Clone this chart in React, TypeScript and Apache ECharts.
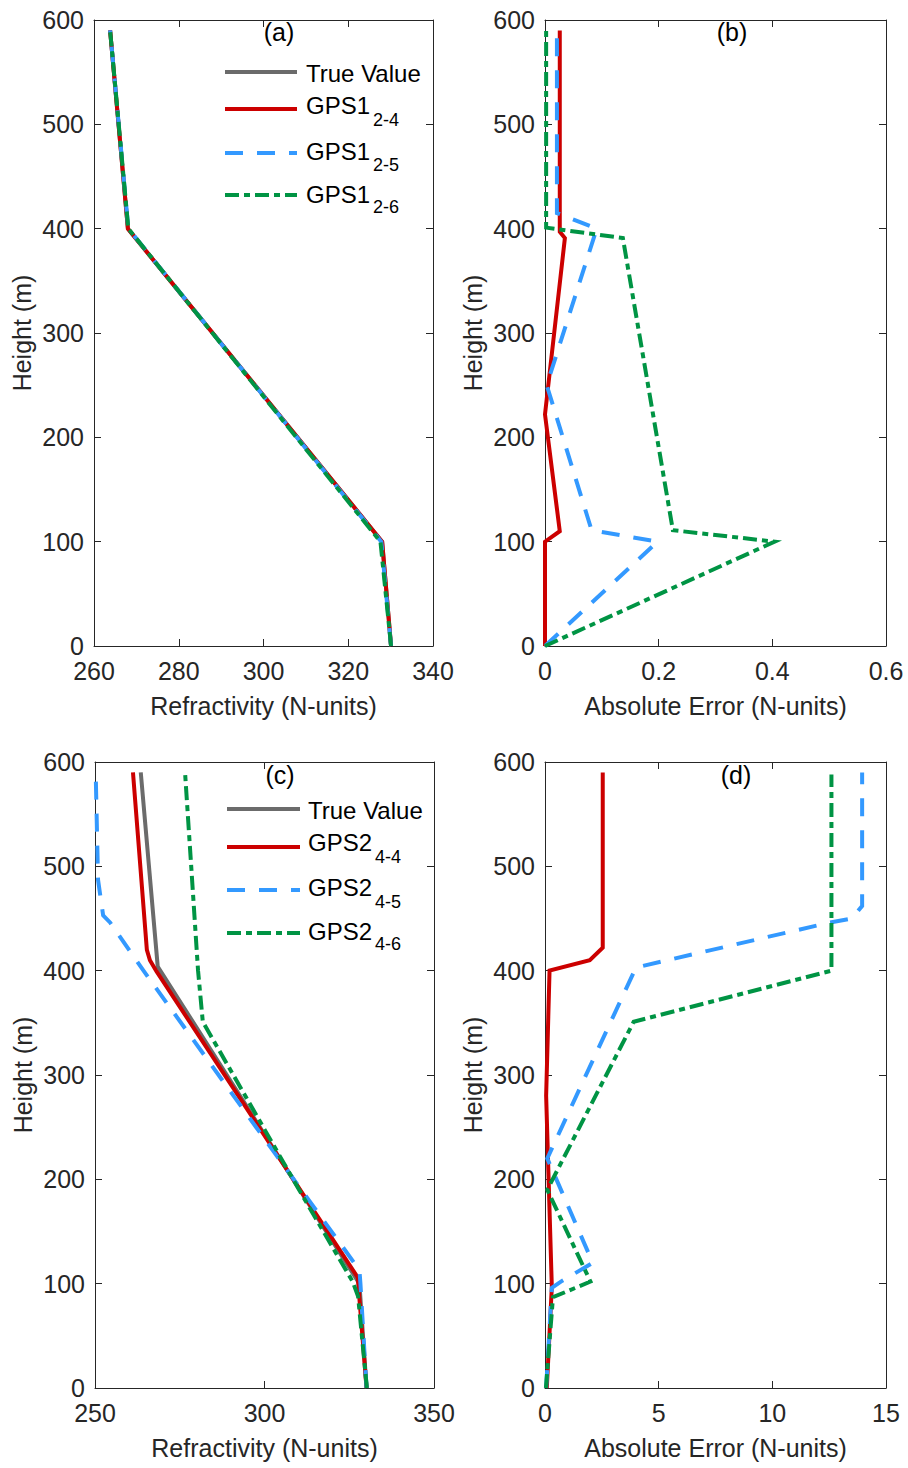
import React, { useEffect, useRef } from "react";
import * as echarts from "echarts";

// ---------- data ----------
// Panel (a): refractivity profiles (N-units) vs height (m)
const A_TRUE_H = [0, 100, 400, 590];
const A_TRUE = [330.1, 328.0, 268.0, 263.8];
const A_RED_H = [0, 100, 400, 590];
const A_RED = [330.1, 328.0, 268.0, 263.8];
const A_BLUE_H = [0, 100, 400, 590];
const A_BLUE = [330.1, 327.8, 268.1, 263.8];
const A_GREEN_H = [0, 100, 400, 590];
const A_GREEN = [330.1, 327.6, 268.1, 263.8];

// Panel (b): absolute error (N-units)
const B_RED_H = [0, 100, 110, 222, 391, 397, 590];
const B_RED = [0, 0, 0.026, 0, 0.035, 0.026, 0.026];
const B_BLUE_H = [0, 100, 111, 250, 400, 415, 590];
const B_BLUE = [0, 0.198, 0.082, 0.003, 0.091, 0.021, 0.021];
const B_GREEN_H = [0, 100, 111, 391, 401, 590];
const B_GREEN = [0, 0.404, 0.225, 0.137, 0.002, 0.002];

// Panel (c): refractivity profiles
const C_TRUE_H = [0, 100, 404, 590];
const C_TRUE = [330.1, 328.0, 268.5, 263.5];
const C_RED_H = [0, 106, 399, 410, 420, 590];
const C_RED = [330.1, 327.5, 268.2, 266.2, 265.3, 261.2];
const C_BLUE_H = [0, 100, 113, 228, 400, 446, 453, 487, 590];
const C_BLUE = [330.1, 328.3, 328.0, 302.4, 264.3, 254.5, 252.4, 250.9, 250.2];
const C_GREEN_H = [0, 88, 102, 190, 351, 400, 588];
const C_GREEN = [330.2, 327.6, 326.0, 310.2, 281.8, 280.4, 276.6];

// Panel (d): absolute error
const D_RED_H = [0, 97, 280, 400, 410, 422, 590];
const D_RED = [0.08, 0.3, 0.05, 0.2, 1.97, 2.54, 2.54];
const D_BLUE_H = [0, 96, 102, 120, 220, 403, 446, 450, 462, 590];
const D_BLUE = [0.05, 0.3, 0.7, 2.1, 0.1, 4.0, 12.5, 13.5, 13.95, 13.95];
const D_GREEN_H = [0, 87, 102, 190, 351, 400, 588];
const D_GREEN = [0.04, 0.35, 2.0, 0.1, 3.9, 12.6, 12.6];

const Y_TICKS = { min: 0, max: 600, interval: 100 };
const X_A = { min: 260, max: 340, interval: 20 };
const X_B = { min: 0, max: 0.6, interval: 0.2 };
const X_C = { min: 250, max: 350, interval: 50 };
const X_D = { min: 0, max: 15, interval: 5 };

const LEGEND_A = ["True Value", "GPS1", "GPS1", "GPS1"];
const LEGEND_A_SUB = ["", "2-4", "2-5", "2-6"];
const LEGEND_C = ["True Value", "GPS2", "GPS2", "GPS2"];
const LEGEND_C_SUB = ["", "4-4", "4-5", "4-6"];
const PANEL_LABELS = ["(a)", "(b)", "(c)", "(d)"];

// ---------- styles ----------
const FONT = 'Arial, "Liberation Sans", Helvetica, sans-serif';
const AX = "#262626";
const COL_GRAY = "#6b6b6b";
const COL_RED = "#cc0000";
const COL_BLUE = "#3399ff";
const COL_GREEN = "#009444";
const DASH_BLUE = [18, 14];
const DASH_GREEN = [14, 5, 6, 5];
const LW = 4;
const FS_TICK = 25;
const FS_NAME = 25;
const FS_LEG = 24;

const GRIDS = [
  { left: 94, top: 20, width: 339, height: 626 },
  { left: 545, top: 20, width: 341, height: 626 },
  { left: 95, top: 762, width: 339, height: 626 },
  { left: 545, top: 762, width: 341, height: 626 },
];

function zip(xs: number[], hs: number[]) {
  return xs.map((x, i) => [x, hs[i]]);
}

function xAxes(gi: number, rng: any, name: string) {
  const common = {
    type: "value",
    gridIndex: gi,
    min: rng.min,
    max: rng.max,
    interval: rng.interval,
    splitLine: { show: false },
    axisLine: { show: true, onZero: false, lineStyle: { color: AX, width: 1 } },
    axisTick: { show: true, inside: true, length: 7, lineStyle: { color: AX } },
  };
  return [
    {
      ...common,
      position: "bottom",
      name,
      nameLocation: "middle",
      nameGap: 47,
      nameTextStyle: { fontSize: FS_NAME, color: AX, fontFamily: FONT },
      axisLabel: { show: true, fontSize: FS_TICK, color: AX, fontFamily: FONT, margin: 12 },
    },
    { ...common, position: "top", axisLabel: { show: false } },
  ];
}

function yAxes(gi: number) {
  const common = {
    type: "value",
    gridIndex: gi,
    ...Y_TICKS,
    splitLine: { show: false },
    axisLine: { show: true, onZero: false, lineStyle: { color: AX, width: 1 } },
    axisTick: { show: true, inside: true, length: 7, lineStyle: { color: AX } },
  };
  return [
    {
      ...common,
      position: "left",
      name: "Height (m)",
      nameLocation: "middle",
      nameRotate: 90,
      nameGap: 60,
      nameTextStyle: { fontSize: FS_NAME, color: AX, fontFamily: FONT },
      axisLabel: { show: true, fontSize: FS_TICK, color: AX, fontFamily: FONT, margin: 10 },
    },
    { ...common, position: "right", axisLabel: { show: false } },
  ];
}

function line(name: string, xs: number[], hs: number[], gi: number, color: string, dash: any, z: number) {
  return {
    type: "line",
    name,
    data: zip(xs, hs),
    xAxisIndex: gi * 2,
    yAxisIndex: gi * 2,
    symbol: "none",
    showSymbol: false,
    silent: true,
    z,
    lineStyle: { color, width: LW, type: dash, cap: "butt", join: "miter" },
  };
}

function legendGraphics(
  x1: number,
  x2: number,
  textX: number,
  subX: number,
  lineYs: number[],
  textYs: number[],
  subYs: number[],
  labels: string[],
  subs: string[]
) {
  const cols = [COL_GRAY, COL_RED, COL_BLUE, COL_GREEN];
  const dashes: any[] = [null, null, DASH_BLUE, DASH_GREEN];
  const els: any[] = [];
  labels.forEach((lab, i) => {
    els.push({
      type: "line",
      shape: { x1, y1: lineYs[i], x2, y2: lineYs[i] },
      style: { stroke: cols[i], lineWidth: LW, lineDash: dashes[i] || undefined, lineCap: "butt" },
      silent: true,
    });
    els.push({
      type: "text",
      x: textX,
      y: textYs[i],
      style: { text: lab, fontSize: FS_LEG, fontFamily: FONT, fill: "#000", align: "left", verticalAlign: "middle" },
      silent: true,
    });
    if (subs[i]) {
      els.push({
        type: "text",
        x: subX,
        y: subYs[i],
        style: { text: subs[i], fontSize: 18, fontFamily: FONT, fill: "#000", align: "left", verticalAlign: "middle" },
        silent: true,
      });
    }
  });
  return els;
}

export default function App() {
  const ref = useRef<HTMLDivElement>(null);
  useEffect(() => {
    if (!ref.current) return;
    const chart = echarts.init(ref.current, null, { renderer: "svg" });
    const panelPos = [
      [279, 32],
      [732, 32],
      [280, 775],
      [736, 775],
    ];
    const graphic: any[] = [
      ...PANEL_LABELS.map((t, i) => ({
        type: "text",
        x: panelPos[i][0],
        y: panelPos[i][1],
        style: { text: t, fontSize: 25, fontFamily: FONT, fill: "#000", align: "center", verticalAlign: "middle" },
        silent: true,
      })),
      ...legendGraphics(225, 297, 306, 373, [72, 109, 153, 195], [73, 105, 151, 194], [0, 120, 165, 207], LEGEND_A, LEGEND_A_SUB),
      ...legendGraphics(227, 300, 308, 375, [809, 847, 890, 933], [810, 842, 887, 931], [0, 857, 902, 944], LEGEND_C, LEGEND_C_SUB),
    ];
    chart.setOption({
      animation: false,
      backgroundColor: "#ffffff",
      grid: GRIDS.map((g) => ({ ...g, containLabel: false, show: false })),
      xAxis: [
        ...xAxes(0, X_A, "Refractivity (N-units)"),
        ...xAxes(1, X_B, "Absolute Error (N-units)"),
        ...xAxes(2, X_C, "Refractivity (N-units)"),
        ...xAxes(3, X_D, "Absolute Error (N-units)"),
      ],
      yAxis: [...yAxes(0), ...yAxes(1), ...yAxes(2), ...yAxes(3)],
      series: [
        line("True Value", A_TRUE, A_TRUE_H, 0, COL_GRAY, "solid", 1),
        line("GPS1 2-4", A_RED, A_RED_H, 0, COL_RED, "solid", 2),
        line("GPS1 2-5", A_BLUE, A_BLUE_H, 0, COL_BLUE, DASH_BLUE, 3),
        line("GPS1 2-6", A_GREEN, A_GREEN_H, 0, COL_GREEN, DASH_GREEN, 4),
        line("GPS1 2-4 error", B_RED, B_RED_H, 1, COL_RED, "solid", 2),
        line("GPS1 2-5 error", B_BLUE, B_BLUE_H, 1, COL_BLUE, DASH_BLUE, 3),
        line("GPS1 2-6 error", B_GREEN, B_GREEN_H, 1, COL_GREEN, DASH_GREEN, 4),
        line("True Value (c)", C_TRUE, C_TRUE_H, 2, COL_GRAY, "solid", 1),
        line("GPS2 4-4", C_RED, C_RED_H, 2, COL_RED, "solid", 2),
        line("GPS2 4-5", C_BLUE, C_BLUE_H, 2, COL_BLUE, DASH_BLUE, 3),
        line("GPS2 4-6", C_GREEN, C_GREEN_H, 2, COL_GREEN, DASH_GREEN, 4),
        line("GPS2 4-4 error", D_RED, D_RED_H, 3, COL_RED, "solid", 2),
        line("GPS2 4-5 error", D_BLUE, D_BLUE_H, 3, COL_BLUE, DASH_BLUE, 3),
        line("GPS2 4-6 error", D_GREEN, D_GREEN_H, 3, COL_GREEN, DASH_GREEN, 4),
      ],
      graphic,
    });
    return () => chart.dispose();
  }, []);
  return (
    <div
      ref={ref}
      style={{ position: "absolute", left: 0, top: 0, width: 908, height: 1468, background: "#fff" }}
    />
  );
}
